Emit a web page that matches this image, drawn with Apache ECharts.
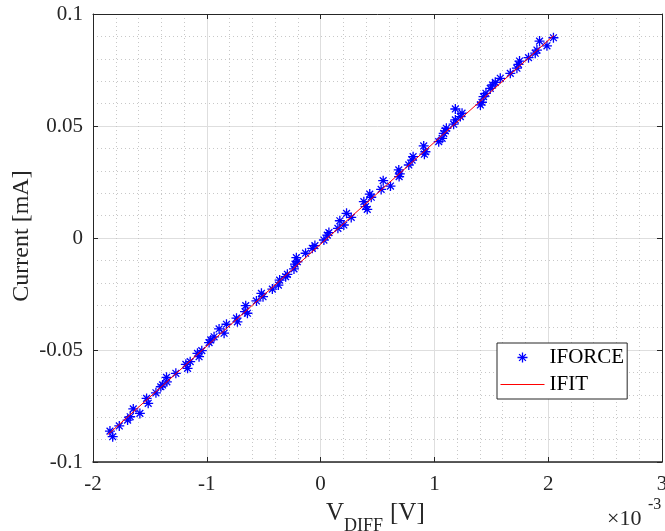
<!DOCTYPE html>
<html>
<head>
<meta charset="utf-8">
<script src="https://cdn.jsdelivr.net/npm/echarts@6/dist/echarts.min.js"></script>
<style>
  html, body { margin: 0; padding: 0; background: #fff; }
  #main { width: 665px; height: 531px; }
</style>
</head>
<body>
<div id="main"></div>
<script>
// V_DIFF in units of 1e-3 V, current in mA
var vForce = [
  -1.851, -1.827, -1.769, -1.696, -1.673, -1.646, -1.588, -1.529, -1.515, -1.447,
  -1.404, -1.389, -1.354, -1.351, -1.272, -1.184, -1.169, -1.146, -1.082, -1.068,
  -1.044, -0.980, -0.965, -0.936, -0.892, -0.848, -0.827, -0.739, -0.731, -0.664,
  -0.658, -0.643, -0.564, -0.520, -0.506, -0.424, -0.371, -0.360, -0.307, -0.292,
  -0.234, -0.225, -0.213, -0.204, -0.132, -0.073, -0.050, 0.029, 0.059, 0.073,
  0.152, 0.169, 0.204, 0.228, 0.269, 0.380, 0.395, 0.410, 0.432, 0.445,
  0.532, 0.550, 0.614, 0.687, 0.690, 0.696, 0.775, 0.804, 0.813, 0.906,
  0.921, 0.912, 1.038, 1.082, 1.068, 1.096, 1.105, 1.169, 1.184, 1.184,
  1.228, 1.243, 1.404, 1.418, 1.432, 1.453, 1.491, 1.511, 1.535, 1.579,
  1.667, 1.725, 1.739, 1.748, 1.827, 1.886, 1.901, 1.924, 1.989, 2.046
];
var iForce = [
  -0.0862, -0.0887, -0.0839, -0.0813, -0.0798, -0.0763, -0.0783, -0.0716, -0.0738, -0.0691,
  -0.0664, -0.0656, -0.0622, -0.0642, -0.0604, -0.0564, -0.0582, -0.0552, -0.0515, -0.0530,
  -0.0503, -0.0467, -0.0455, -0.0441, -0.0406, -0.0425, -0.0385, -0.0358, -0.0374, -0.0329,
  -0.0302, -0.0336, -0.0281, -0.0247, -0.0262, -0.0228, -0.0210, -0.0188, -0.0173, -0.0162,
  -0.0138, -0.0117, -0.0088, -0.0106, -0.0068, -0.0046, -0.0034, -0.0009, 0.0013, 0.0024,
  0.0043, 0.0077, 0.0058, 0.0110, 0.0092, 0.0162, 0.0140, 0.0128, 0.0196, 0.0182,
  0.0217, 0.0256, 0.0232, 0.0304, 0.0274, 0.0286, 0.0326, 0.0348, 0.0363, 0.0411,
  0.0385, 0.0374, 0.0430, 0.0467, 0.0445, 0.0478, 0.0490, 0.0508, 0.0576, 0.0527,
  0.0542, 0.0557, 0.0594, 0.0606, 0.0631, 0.0646, 0.0668, 0.0683, 0.0695, 0.0713,
  0.0735, 0.0758, 0.0775, 0.0790, 0.0805, 0.0825, 0.0839, 0.0879, 0.0858, 0.0894
];
// fitted line end points
var vFit = [-1.87, 2.05];
var iFit = [-0.0878, 0.0905];

var xTicks = [-2, 3, 1];
var yTicks = [-0.1, 0.1, 0.05];

var chart = echarts.init(document.getElementById('main'));
var serif = '"Liberation Serif", "Times New Roman", serif';
var axisCol = '#262626';
var star = 'path://M5 0L5 10M0 5L10 5M1.6 1.6L8.4 8.4M1.6 8.4L8.4 1.6';
var dash = 'path://M0 0L0 0M0 5L44 5M44 10L44 10';

var forceData = vForce.map(function (v, i) { return [v, iForce[i]]; });
var fitData = vFit.map(function (v, i) { return [v, iFit[i]]; });

function baseX(pos, showLabel) {
  return {
    type: 'value', position: pos,
    min: xTicks[0], max: xTicks[1], interval: xTicks[2],
    axisLine: { show: true, onZero: false, lineStyle: { color: axisCol, width: pos === 'bottom' ? 1.5 : 1 } },
    axisTick: { show: true, inside: true, length: 5, lineStyle: { color: axisCol } },
    minorTick: { show: false, splitNumber: 5 },
    axisLabel: { show: showLabel, color: '#262626', fontFamily: serif, fontSize: 21, margin: 12 },
    splitLine: { show: showLabel, lineStyle: { color: '#dedede', width: 1 } },
    minorSplitLine: { show: showLabel, lineStyle: { color: '#c8c8c8', width: 1, type: [1, 3] } }
  };
}
function baseY(pos, showLabel) {
  return {
    type: 'value', position: pos,
    min: yTicks[0], max: yTicks[1], interval: yTicks[2],
    axisLine: { show: true, onZero: false, lineStyle: { color: axisCol, width: 1 } },
    axisTick: { show: true, inside: true, length: 5, lineStyle: { color: axisCol } },
    minorTick: { show: false, splitNumber: 5 },
    axisLabel: {
      show: showLabel, color: '#262626', fontFamily: serif, fontSize: 21, margin: 10,
      formatter: function (v) { return String(+v.toFixed(3)); }
    },
    splitLine: { show: showLabel, lineStyle: { color: '#dedede', width: 1 } },
    minorSplitLine: { show: showLabel, lineStyle: { color: '#c8c8c8', width: 1, type: [1, 3] } }
  };
}

var option = {
  backgroundColor: '#fff',
  animation: false,
  grid: { left: 93, right: 3, top: 14, bottom: 69, outerBoundsMode: 'none' },
  xAxis: [baseX('bottom', true), baseX('top', false)],
  yAxis: [baseY('left', true), baseY('right', false)],
  legend: {
    orient: 'vertical',
    left: 497, top: 343,
    backgroundColor: '#fff',
    borderColor: axisCol, borderWidth: 1, borderRadius: 0,
    padding: [4, 3, 4, 3],
    itemWidth: 44, itemHeight: 10, itemGap: 6,
    textStyle: { fontFamily: serif, fontSize: 21, color: '#000' },
    data: [
      { name: 'IFORCE', icon: star, itemStyle: { color: 'rgba(0,0,0,0)', borderColor: '#0000ff', borderWidth: 1.3 } },
      { name: 'IFIT', icon: dash, itemStyle: { color: 'rgba(0,0,0,0)', borderColor: '#ff0000', borderWidth: 1 } }
    ]
  },
  series: [
    {
      name: 'IFORCE', type: 'scatter', data: forceData,
      symbol: star, symbolSize: 10,
      itemStyle: { color: 'rgba(0,0,0,0)', borderColor: '#0000ff', borderWidth: 1.3, opacity: 1 },
      z: 2
    },
    {
      name: 'IFIT', type: 'line', data: fitData,
      symbol: 'none', showSymbol: false,
      lineStyle: { color: '#ff0000', width: 1 },
      itemStyle: { color: '#ff0000' },
      z: 3
    }
  ],
  graphic: [
    { type: 'text', x: 22, y: 236, rotation: Math.PI / 2,
      style: { text: 'Current [mA]', font: '24px ' + serif, fill: '#262626', align: 'center', verticalAlign: 'middle' } },
    { type: 'text', x: 326, y: 513,
      style: { text: 'V', font: '25px ' + serif, fill: '#262626', align: 'left', verticalAlign: 'middle' } },
    { type: 'text', x: 344, y: 526,
      style: { text: 'DIFF', font: '18px ' + serif, fill: '#262626', align: 'left', verticalAlign: 'middle' } },
    { type: 'text', x: 390, y: 513,
      style: { text: '[V]', font: '25px ' + serif, fill: '#262626', align: 'left', verticalAlign: 'middle' } },
    { type: 'text', x: 607, y: 519,
      style: { text: '\u00d710', font: '22px ' + serif, fill: '#262626', align: 'left', verticalAlign: 'middle' } },
    { type: 'text', x: 648, y: 505,
      style: { text: '-3', font: '16px ' + serif, fill: '#262626', align: 'left', verticalAlign: 'middle' } }
  ]
};
chart.setOption(option);
</script>
</body>
</html>
